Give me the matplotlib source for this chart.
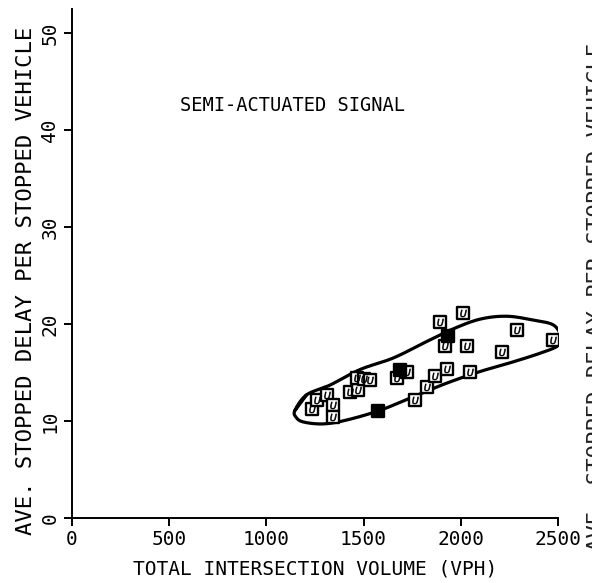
import numpy as np
import matplotlib
matplotlib.use("Agg")
import matplotlib.pyplot as plt

# --- Observations: volume (vph) vs. avg stopped delay (sec/veh) ---
VOLUME = [1233, 1259, 1310, 1344, 1341, 1430, 1473, 1464, 1500, 1533,
          1670, 1721, 1764, 1824, 1867, 1927, 2047, 1919, 2030, 1893,
          2013, 2210, 2288, 2476]
DELAY = [11.2, 12.2, 12.7, 11.6, 10.4, 13.0, 13.2, 14.4, 14.3, 14.2,
         14.4, 15.1, 12.2, 13.5, 14.6, 15.4, 15.1, 17.7, 17.7, 20.2,
         21.1, 17.1, 19.4, 18.4]
# solid symbols
VOLUME_SOLID = [1576, 1687, 1936]
DELAY_SOLID = [11.0, 15.3, 18.8]

# hand-drawn envelope around the cluster
ENV_X = [1147, 1207, 1327, 1481, 1653, 1825, 1961, 2099, 2236, 2373, 2476,
         2515, 2502, 2424, 2270, 2099, 1927, 1756, 1584, 1413, 1293, 1190, 1152]
ENV_Y = [11.1, 12.7, 13.7, 15.3, 16.5, 18.2, 19.5, 20.5, 20.8, 20.4, 19.9,
         18.7, 17.8, 17.1, 16.1, 15.1, 13.9, 12.5, 11.1, 10.1, 9.7, 9.9, 10.4]

X_TICKS = [0, 500, 1000, 1500, 2000, 2500]
Y_TICKS = [0, 10, 20, 30, 40, 50]

TITLE = "SEMI-ACTUATED SIGNAL"
XLABEL = "TOTAL INTERSECTION VOLUME (VPH)"
YLABEL = "AVE. STOPPED DELAY PER STOPPED VEHICLE"


def closed_curve(xs, ys, steps=20):
    """Periodic Catmull-Rom through the outline vertices."""
    p = np.column_stack([xs, ys]).astype(float)
    n = len(p)
    out = []
    t = np.linspace(0, 1, steps, endpoint=False)[:, None]
    for i in range(n):
        p0, p1, p2, p3 = p[i - 1], p[i], p[(i + 1) % n], p[(i + 2) % n]
        seg = 0.5 * ((2 * p1) + (-p0 + p2) * t
                     + (2 * p0 - 5 * p1 + 4 * p2 - p3) * t ** 2
                     + (-p0 + 3 * p1 - 3 * p2 + p3) * t ** 3)
        out.append(seg)
    out.append(p[1:2])
    c = np.vstack(out)
    return c[:, 0], c[:, 1]


plt.rcParams['font.family'] = ['DejaVu Sans Mono', 'DejaVu Sans']

fig = plt.figure(figsize=(5.92, 5.83), dpi=100)
ax = fig.add_axes([0.1216, 0.1115, 0.821, 0.8735])

ex, ey = closed_curve(ENV_X, ENV_Y)
ax.plot(ex, ey, color='black', lw=2.3, solid_capstyle='round')

ax.scatter(VOLUME, DELAY, marker='s', s=85, facecolor='white',
           edgecolor='black', linewidths=1.7, zorder=3)
ax.scatter(VOLUME, DELAY, marker='$U$', s=26, color='black',
           linewidths=0.4, zorder=4)
ax.scatter(VOLUME_SOLID, DELAY_SOLID, marker='s', s=85, facecolor='black',
           edgecolor='black', linewidths=1.7, zorder=3)

ax.text(556, 42.5, TITLE, fontsize=13.5, va='center', ha='left')

ax.set_xlim(0, 2500)
ax.set_ylim(0, 52.5)
ax.set_xticks(X_TICKS)
ax.set_yticks(Y_TICKS)
ax.set_xticklabels([str(v) for v in X_TICKS], fontsize=14)
ax.set_yticklabels([str(v) for v in Y_TICKS], fontsize=14,
                   rotation=90, va='center')
ax.tick_params(direction='out', length=6, width=1.4, pad=3)
ax.set_xlabel(XLABEL, fontsize=14, labelpad=7)
ax.set_ylabel(YLABEL, fontsize=16, labelpad=3, y=0.465)

for side in ('top', 'right'):
    ax.spines[side].set_visible(False)
for side in ('left', 'bottom'):
    ax.spines[side].set_linewidth(1.4)

# edge of the facing page's axis title, cut off by the sheet
fig.text(1.008, 0.49, YLABEL, rotation=90, fontsize=16,
         ha='center', va='center', color='#222222')

fig.savefig('out.png', dpi=100)
